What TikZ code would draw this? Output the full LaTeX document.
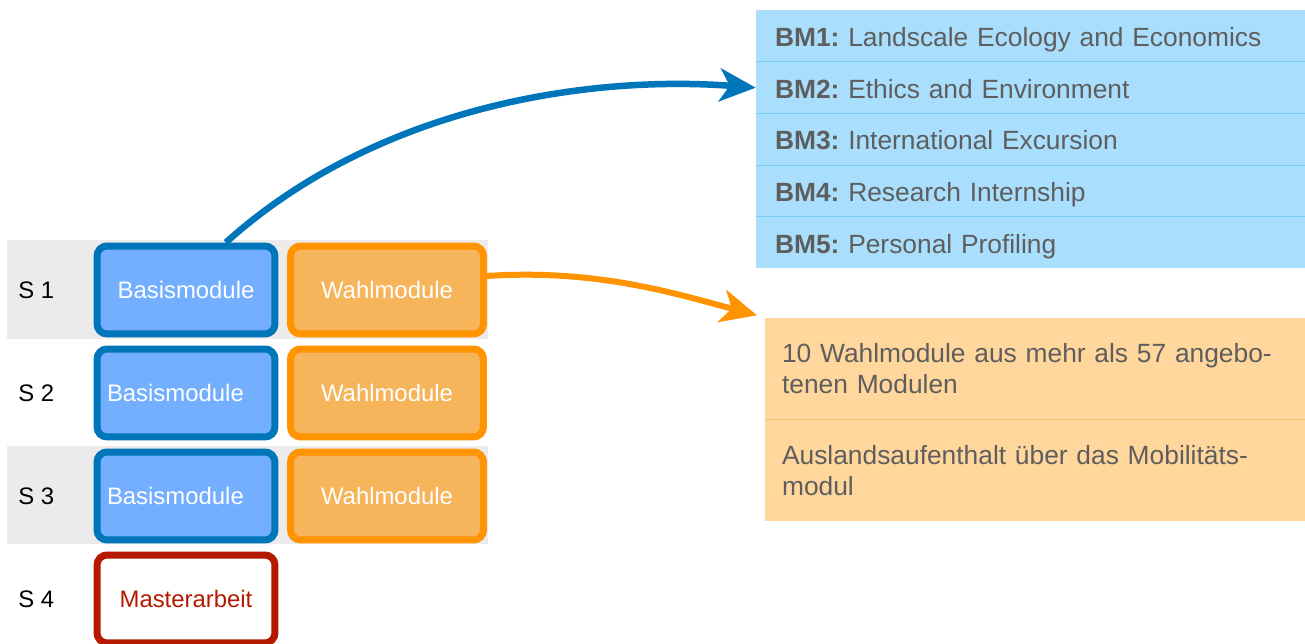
\documentclass[tikz,border=0pt]{standalone}
\usepackage{fontspec}
\setmainfont{Liberation Sans}
\usetikzlibrary{arrows.meta, positioning, calc}
\definecolor{basisline}{HTML}{0076BA}
\definecolor{basisfill}{HTML}{73AEFF}
\definecolor{wahlline}{HTML}{FF9300}
\definecolor{wahlfill}{HTML}{F6B55B}
\definecolor{masterline}{HTML}{B51A00}
\definecolor{bandgray}{HTML}{EBEBEB}
\definecolor{bmfill}{HTML}{A9DEFD}
\definecolor{bmrule}{HTML}{7DCBF7}
\definecolor{wlfill}{HTML}{FFD69B}
\definecolor{wlrule}{HTML}{F5C272}
\definecolor{infotext}{HTML}{5E5E5E}
\frenchspacing

\begin{document}
\begin{tikzpicture}[
    x=0.02cm, y=-0.02cm,
    every node/.style={font=\fontsize{13.6}{16}\selectfont},
    modbox/.style={rounded corners=0.2cm, line width=0.14cm, minimum height=1.76cm, inner sep=0pt},
    basis/.style={modbox, draw=basisline, fill=basisfill, text=white, minimum width=3.56cm},
    basisleft/.style={basis, text width=3.16cm, inner xsep=0.2cm, align=left},
    wahl/.style={modbox, draw=wahlline, fill=wahlfill, text=white, minimum width=3.86cm},
    master/.style={modbox, draw=masterline, fill=white, text=masterline, minimum width=3.56cm},
    sem/.style={anchor=west, inner sep=0pt},
    bmrow/.style={fill=bmfill, text=infotext, minimum width=10.98cm, minimum height=1.02cm,
        text width=10.22cm, inner xsep=0.38cm, inner ysep=0pt, align=left,
        text height=0.48cm, text depth=0.06cm,
        font=\fontsize{15}{18}\selectfont},
    wlrow/.style={fill=wlfill, text=infotext, minimum width=10.8cm, minimum height=2.03cm,
        text width=10.12cm, inner xsep=0.34cm, inner ysep=0pt, align=left,
        font=\fontsize{15}{18.1}\selectfont},
    link/.style={line width=0.13cm, -{Stealth[length=0.72cm, width=0.66cm, inset=0.2cm]}},
]
\useasboundingbox (0,0) rectangle (1305,644);

% grey semester bands
\fill[bandgray] (7,240) rectangle (488,339);
\fill[bandgray] (7,446) rectangle (488,544);

% semesters
\node[sem] (s1) at (18,290) {S 1};
\node[sem] (s2) at (18,393) {S 2};
\node[sem] (s3) at (18,496) {S 3};
\node[sem] (s4) at (18,599) {S 4};

\node[basis] (bas1) at (186,290) {Basismodule};
\node[basisleft] (bas2) at (186,393) {Basismodule};
\node[basisleft] (bas3) at (186,496) {Basismodule};
\node[master] (ma) at (186,599) {Masterarbeit};

\node[wahl] (wahl1) at (387,290) {Wahlmodule};
\node[wahl] (wahl2) at (387,393) {Wahlmodule};
\node[wahl] (wahl3) at (387,496) {Wahlmodule};

% list of the Basismodule
\node[bmrow] (bm1) at (1030.5,36) {\textbf{BM1:} Landscale Ecology and Economics};
\node[bmrow, below=0pt of bm1] (bm2) {\textbf{BM2:} Ethics and Environment};
\node[bmrow, below=0pt of bm2] (bm3) {\textbf{BM3:} International Excursion};
\node[bmrow, below=0pt of bm3] (bm4) {\textbf{BM4:} Research Internship};
\node[bmrow, below=0pt of bm4] (bm5) {\textbf{BM5:} Personal Profiling};
\foreach \i in {1,...,4}{
    \draw[bmrule, line width=0.6pt] (bm\i.south west) -- (bm\i.south east);
}

% about the Wahlmodule
\node[wlrow] (wl1) at (1035,368.5) {10 Wahlmodule aus mehr als 57 angebo-\\tenen Modulen};
\node[wlrow, below=0pt of wl1] (wl2) {Auslandsaufenthalt über das Mobilitäts-\\modul};
\draw[wlrule, line width=0.6pt] (wl1.south west) -- (wl1.south east);

% arrows
\draw[link, basisline] (bas1.50) .. controls +(42:4cm) and +(-3.46cm,0.26cm) .. (bm2.west);
\draw[link, wahlline, line width=0.12cm, shorten >=0.16cm]
    (wahl1.8) .. controls +(2.2cm,0.14cm) and +(-1.8cm,0.48cm) .. (wl1.north west);
\end{tikzpicture}
\end{document}
